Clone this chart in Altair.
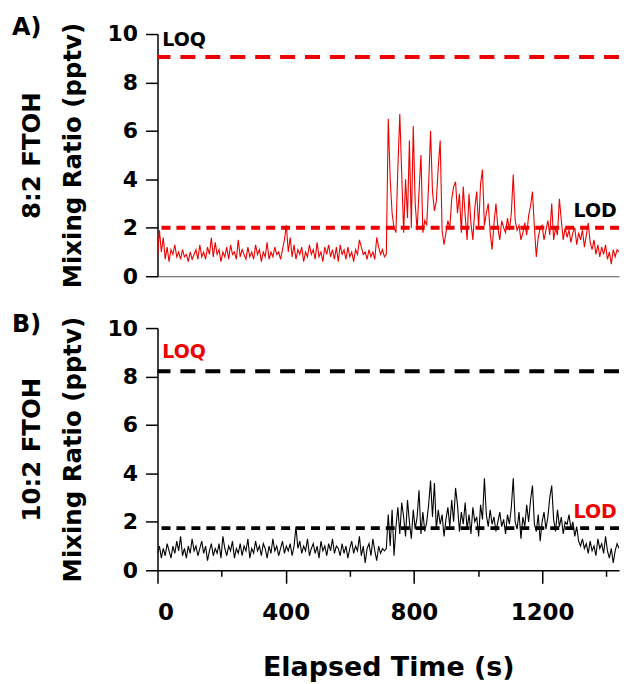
import altair as alt
import pandas as pd

# ---- data -----------------------------------------------------------------
time_s = list(range(0, 1441, 6))  # elapsed time (s), sampling every 6 s

ftoh82 = [
    0.8, 1.9, 1.0, 1.6, 0.7, 1.2, 0.6, 1.1, 0.9, 1.3,
    0.8, 1.0, 0.7, 1.1, 0.8, 0.9, 0.6, 1.0, 0.7, 0.9,
    1.1, 0.7, 1.3, 0.8, 1.0, 0.7, 1.2, 0.9, 1.6, 0.8,
    1.4, 0.9, 1.1, 0.6, 1.0, 0.8, 1.2, 0.7, 1.3, 0.9,
    1.0, 0.7, 1.5, 0.8, 1.1, 0.9, 0.7, 1.2, 0.8, 1.0,
    0.7, 1.3, 0.9, 1.1, 0.6, 1.0, 0.8, 1.4, 0.7, 1.0,
    0.8, 1.2, 0.9, 1.0, 0.7, 1.1, 1.5, 2.1, 1.0, 1.6,
    0.8, 1.3, 0.7, 1.1, 0.9, 1.2, 0.6, 1.0, 0.8, 1.3,
    0.9, 1.1, 0.7, 1.4, 0.8, 1.0, 0.6, 1.2, 0.9, 1.3,
    0.8, 1.1, 0.7, 1.2, 0.6, 1.3, 0.9, 1.1, 0.7, 1.2,
    0.8, 1.0, 0.6, 1.1, 0.9, 1.5, 1.2, 0.9, 1.0, 0.7,
    1.1, 0.8, 1.0, 0.7, 1.6, 1.2, 0.9, 1.1, 0.8, 0.9,
    6.5, 4.0, 2.6, 2.0, 1.8, 4.5, 6.7, 4.2, 1.8, 4.0,
    2.4, 5.6, 2.0, 6.2, 3.0, 1.9, 3.5, 5.0, 1.8, 2.3,
    2.1, 3.8, 6.0, 3.5, 2.7, 3.1, 4.5, 5.6, 1.9, 1.3,
    1.8, 2.3, 2.0, 3.2, 3.7, 3.9, 2.6, 3.4, 1.8, 3.7,
    2.5, 1.5, 3.4, 2.2, 1.5, 2.8, 3.5, 2.0, 3.8, 4.4,
    2.1, 2.6, 3.0, 1.8, 1.1, 2.2, 3.0, 2.0, 1.5, 2.3,
    2.0, 1.8, 2.4, 1.9, 2.6, 4.2, 2.3, 1.9, 2.1, 1.5,
    1.8, 2.2, 1.7, 2.5, 2.9, 3.5, 2.0, 0.8, 1.6, 2.0,
    2.1, 1.5, 1.9, 2.3, 1.7, 3.0, 1.5, 2.0, 1.7, 3.2,
    2.3, 1.5, 2.0, 1.6, 1.9, 1.4, 1.8, 2.0, 1.3, 1.8,
    1.5, 1.9, 1.2, 1.7, 2.2, 1.4, 1.1, 1.5, 0.9, 1.3,
    0.8, 1.2, 0.9, 1.3, 0.7, 1.0, 0.5, 1.1, 0.8, 1.1,
    1.0,
]

ftoh102 = [
    0.7, 1.0, 0.5, 0.9, 0.6, 1.1, 0.8, 0.5, 1.0, 0.7,
    1.2, 0.8, 1.4, 0.6, 0.9, 0.5, 1.0, 0.7, 1.3, 0.8,
    1.0, 0.6, 0.9, 1.2, 0.7, 1.0, 0.4, 0.8, 1.1, 0.6,
    0.9, 0.7, 1.1, 0.5, 1.4, 0.9, 0.6, 1.0, 0.8, 1.2,
    0.5, 0.9, 0.7, 1.1, 0.6, 1.0, 0.8, 1.3, 0.5, 0.9,
    0.7, 1.2, 0.8, 1.0, 0.6, 1.1, 0.9, 0.5, 1.0, 0.7,
    1.3, 0.8, 1.0, 0.6, 0.9, 1.2, 0.7, 1.0, 0.8, 1.1,
    0.6, 1.0, 1.8, 0.9, 1.2, 0.7, 1.0, 0.8, 1.3, 0.6,
    0.9, 1.1, 0.7, 1.0, 0.5, 1.2, 0.8, 1.0, 0.6, 1.1,
    0.8, 1.3, 0.7, 1.0, 0.9, 0.6, 1.1, 0.7, 1.0, 0.5,
    0.9, 1.2, 0.7, 1.0, 0.8, 1.4, 0.6, 1.0, 0.3, 0.9,
    1.1, 0.6, 1.3, 0.8, 0.4, 1.0, 0.7, 0.9, 0.8, 0.9,
    2.3, 1.0, 2.5, 0.6, 1.8, 2.6, 1.5, 2.8, 2.2, 1.4,
    2.9, 2.0, 1.3, 2.5, 1.7, 2.2, 3.3, 1.5, 2.4, 1.6,
    2.0, 2.7, 3.7, 2.2, 3.6, 1.7, 2.5, 1.9, 2.3, 1.4,
    2.1, 2.6, 1.8, 2.9, 2.0, 3.4, 2.7, 1.6, 2.4, 1.9,
    2.8, 1.7, 2.3, 1.5, 2.6, 2.0, 2.2, 1.4, 2.7, 2.1,
    3.8, 2.3, 1.8, 2.5, 1.9, 2.2, 1.6, 2.0, 2.4, 1.8,
    2.1, 1.5, 2.3, 1.9, 2.6, 3.8, 2.0, 1.7, 2.4, 1.3,
    2.2, 1.8, 2.7, 2.0, 2.9, 3.5, 1.9, 1.6, 2.3, 1.2,
    2.0, 2.4, 1.7, 2.2, 3.0, 3.5, 2.1, 1.6, 2.5, 1.8,
    2.2, 1.5, 2.0, 1.9, 2.3, 1.7, 2.0, 1.4, 1.8, 1.2,
    1.0, 1.3, 0.9, 1.1, 0.7, 1.2, 0.8, 1.0, 0.6, 1.3,
    0.9, 1.1, 0.7, 1.4, 0.8, 0.5, 0.9, 0.3, 0.8, 1.1,
    0.9,
]

panel_labels = ["A)", "B)"]
compounds = ["8:2 FTOH", "10:2 FTOH"]
loq_values = [9.05, 8.22]
lod_values = [2.0, 1.74]
limit_names = ["LOQ", "LOD"]
# annotation anchor (time, mixing ratio) for LOQ / LOD labels
loq_label_pos = [(15, 9.75), (15, 9.0)]
lod_label_pos = [(1298, 2.7), (1298, 2.4)]

x_ticks = [0, 200, 400, 600, 800, 1000, 1200, 1400]
y_ticks = [0, 2, 4, 6, 8, 10]

FONT = "DejaVu Sans"
RED = "#ee0000"
BLACK = "#000000"
W, H = 463, 243


def panel(values, idx, line_color, text_color, show_x):
    df = pd.DataFrame({"t": time_s, "v": values})
    xscale = alt.Scale(domain=[0, 1440], nice=False, zero=False)
    yscale = alt.Scale(domain=[0, 10], nice=False)
    if show_x:
        xaxis = alt.Axis(
            values=x_ticks, format="d", title="Elapsed Time (s)",
            labelExpr="datum.value % 400 === 0 ? datum.label : ''",
            tickSize={"condition": {"test": "datum.value % 400 === 0", "value": 13}, "value": 6},
            labelFontSize=23, labelPadding=18, titleFontSize=27, titlePadding=31,
            grid=False,
        )
    else:
        xaxis = alt.Axis(labels=False, ticks=False, title=None, grid=False,
                         domainColor="#555555", domainWidth=1.2)
    yaxis = alt.Axis(values=y_ticks, title=[compounds[idx], "Mixing Ratio (pptv)"],
                     tickSize=12, labelPadding=8, labelFontSize=22, titleFontSize=24.5,
                     titleLineHeight=41, titlePadding=22, grid=False)

    line = alt.Chart(df).mark_line(color=line_color, strokeWidth=1.1, clip=True).encode(
        x=alt.X("t:Q", scale=xscale, axis=xaxis),
        y=alt.Y("v:Q", scale=yscale, axis=yaxis),
    )
    loq = alt.Chart(pd.DataFrame({"v": [loq_values[idx]]})).mark_rule(
        color=line_color if idx == 1 else RED, strokeWidth=4, strokeDash=[15, 10]
    ).encode(y=alt.Y("v:Q", scale=yscale))
    lod = alt.Chart(pd.DataFrame({"v": [lod_values[idx]]})).mark_rule(
        color=line_color if idx == 1 else RED, strokeWidth=4, strokeDash=[9, 6]
    ).encode(y=alt.Y("v:Q", scale=yscale))

    ann = pd.DataFrame({
        "label": limit_names,
        "t": [loq_label_pos[idx][0], lod_label_pos[idx][0]],
        "v": [loq_label_pos[idx][1], lod_label_pos[idx][1]],
    })
    texts = alt.Chart(ann).mark_text(
        align="left", baseline="middle", font=FONT, fontSize=19, fontWeight="bold",
        color=text_color,
    ).encode(x=alt.X("t:Q", scale=xscale), y=alt.Y("v:Q", scale=yscale), text="label:N")

    tag = alt.Chart(pd.DataFrame({"label": [panel_labels[idx]]})).mark_text(
        align="left", baseline="middle", font=FONT, fontSize=24, fontWeight="bold", color="black"
    ).encode(text="label:N", x=alt.value(-146), y=alt.value(-6 if idx == 0 else -3))

    return alt.layer(lod, loq, line, texts, tag).properties(width=W, height=H)


top = panel(ftoh82, 0, RED, BLACK, False)
bottom = panel(ftoh102, 1, BLACK, RED, True)

chart = alt.vconcat(top, bottom, spacing=52, bounds="flush").properties(
    padding={"left": 4, "top": 7, "right": 0, "bottom": 2}
).configure_view(stroke=None).configure_axis(
    labelFont=FONT, titleFont=FONT, labelFontWeight="bold", titleFontWeight="bold",
    labelColor="black", titleColor="black", domainColor="black", tickColor="black",
    domainWidth=1.5, tickWidth=1.5,
)

chart.save("out.html", embed_options={"renderer": "svg", "actions": False})
